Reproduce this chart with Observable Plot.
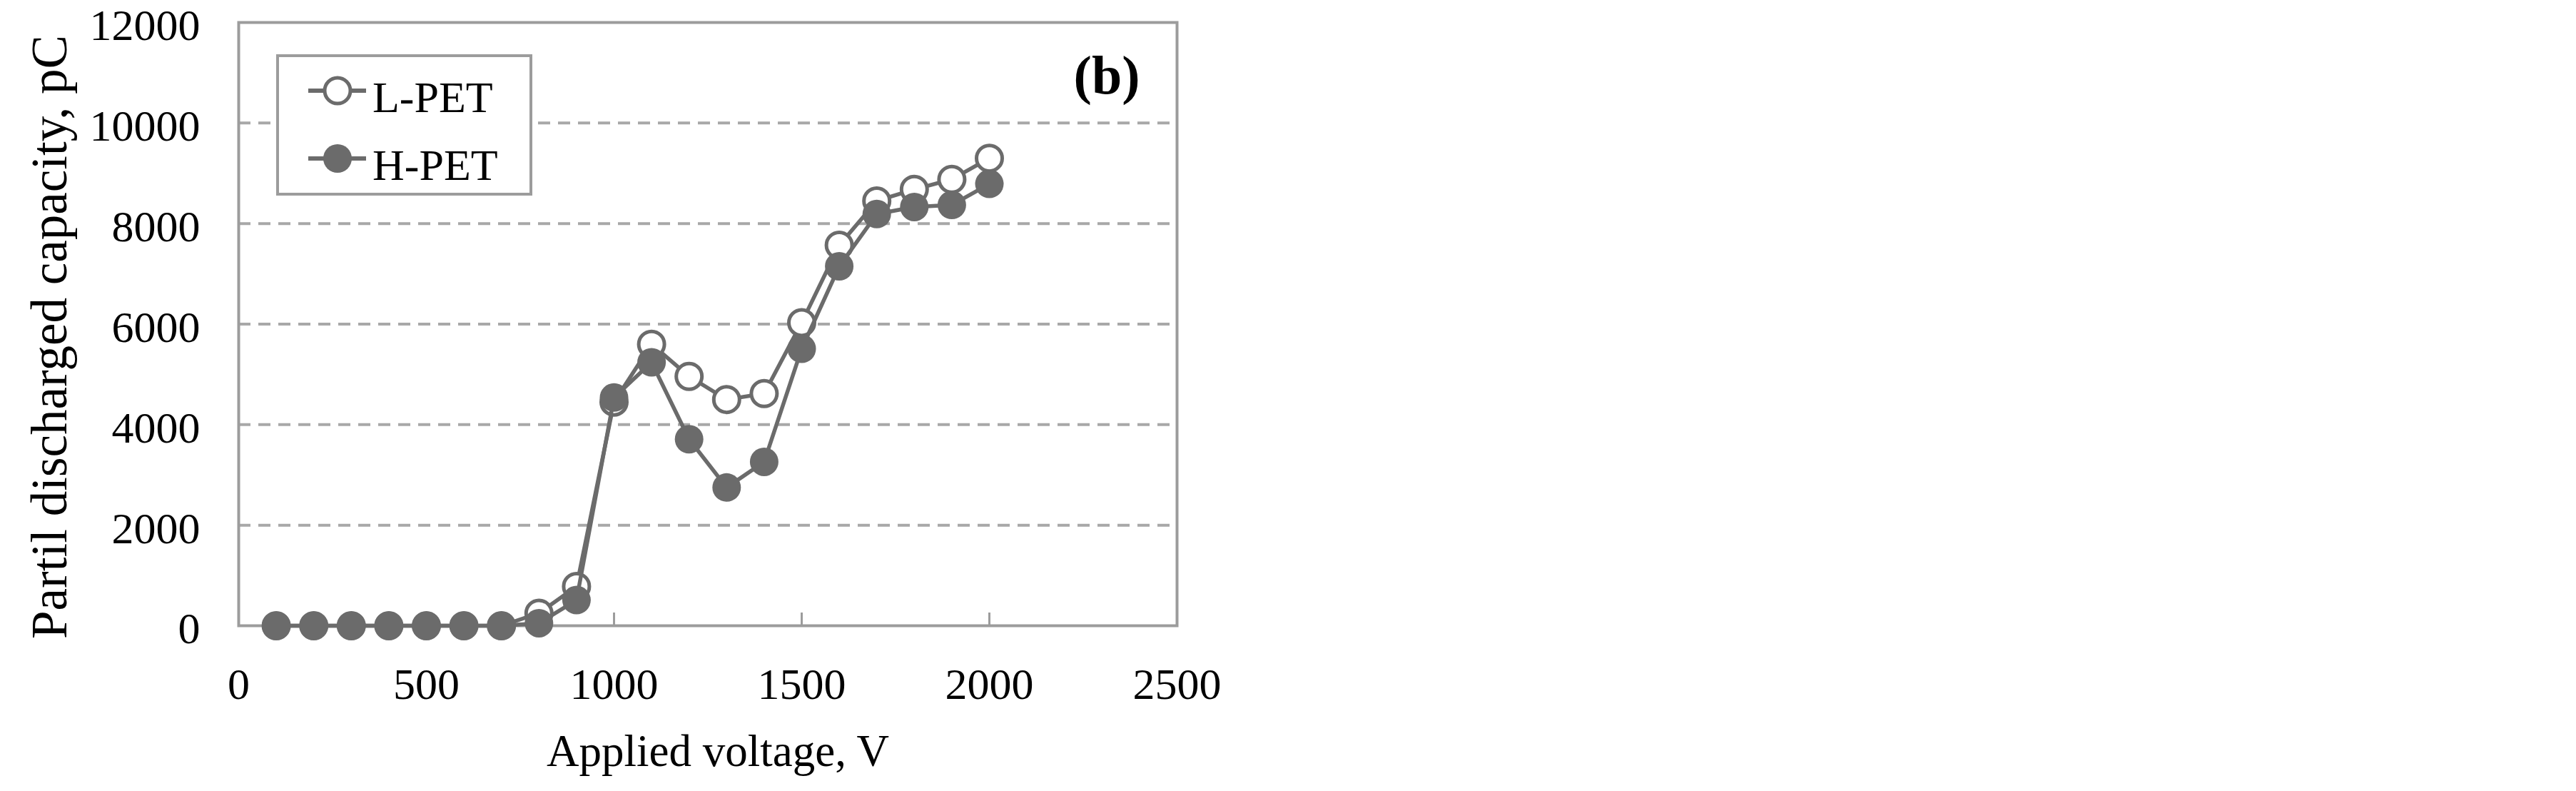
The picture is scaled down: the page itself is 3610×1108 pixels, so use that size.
<!DOCTYPE html>
<html>
<head>
<meta charset="utf-8">
<script src="https://cdn.jsdelivr.net/npm/d3@7"></script>
<script src="https://cdn.jsdelivr.net/npm/@observablehq/plot@0.6"></script>
<style>
  html, body { margin: 0; padding: 0; background: #ffffff; }
  svg { display: block; }
</style>
</head>
<body>
<div id="chart"></div>
<script>
const voltage = [100, 200, 300, 400, 500, 600, 700, 800, 900, 1000, 1100, 1200, 1300, 1400, 1500, 1600, 1700, 1800, 1900, 2000];
const lpet = [0, 0, 0, 0, 0, 0, 0, 250, 780, 4450, 5600, 4960, 4500, 4620, 6030, 7570, 8450, 8680, 8880, 9300];
const hpet = [0, 0, 0, 0, 0, 0, 0, 50, 510, 4540, 5240, 3710, 2750, 3260, 5510, 7150, 8190, 8330, 8370, 8790];
const xTicks = [0, 500, 1000, 1500, 2000, 2500];
const yTicks = [0, 2000, 4000, 6000, 8000, 10000, 12000];
const gridValues = [2000, 4000, 6000, 8000, 10000];
const seriesNames = ["L-PET", "H-PET"];
const xTitle = "Applied voltage, V";
const yTitle = "Partil discharged capacity, pC";
const panelLabel = "(b)";

const lData = voltage.map((v, i) => ({v, q: lpet[i]}));
const hData = voltage.map((v, i) => ({v, q: hpet[i]}));

const FONT = "'Liberation Serif', 'Times New Roman', Times, serif";
const DARK = "#6b6b6b";
const GRID = "#a8a8a8";
const FRAME = "#9c9c9c";

const W = 3610, H = 1108;
const mL = 334, mR = 1961, mT = 31, mB = 232;
const plotH = H - mT - mB;

const chart = Plot.plot({
  width: W,
  height: H,
  marginLeft: mL,
  marginRight: mR,
  marginTop: mT,
  marginBottom: mB,
  x: {domain: [0, 2500]},
  y: {domain: [0, 12000]},
  style: {fontFamily: FONT, fontSize: "62px", color: "black", background: "white"},
  marks: [
    Plot.ruleY(gridValues, {stroke: GRID, strokeWidth: 4, strokeDasharray: "17,11"}),
    Plot.frame({stroke: FRAME, strokeWidth: 4}),
    Plot.tickX(xTicks, {x: d => d, stroke: FRAME, strokeWidth: 3, insetTop: plotH - 18}),
    Plot.axisX(xTicks, {tickSize: 0, tickPadding: 58, fontSize: 62, label: null, tickFormat: d => String(d), fill: "black"}),
    Plot.axisY(yTicks, {tickSize: 0, tickPadding: 54, fontSize: 62, label: null, tickFormat: d => String(d), dy: 5, fill: "black"}),
    Plot.line(lData, {x: "v", y: "q", stroke: DARK, strokeWidth: 5.5}),
    Plot.dot(lData, {x: "v", y: "q", r: 18, fill: "white", stroke: DARK, strokeWidth: 5}),
    Plot.line(hData, {x: "v", y: "q", stroke: DARK, strokeWidth: 5.5}),
    Plot.dot(hData, {x: "v", y: "q", r: 20, fill: DARK, stroke: "none"}),
    Plot.text([xTitle], {frameAnchor: "bottom", textAnchor: "middle", lineAnchor: "bottom", dx: 14, dy: 196, fontSize: 63, fill: "black"}),
    Plot.text([yTitle], {frameAnchor: "left", textAnchor: "middle", lineAnchor: "middle", rotate: -90, dx: -264, dy: 18, fontSize: 71, fill: "black"}),
    Plot.text([panelLabel], {frameAnchor: "top-right", textAnchor: "end", lineAnchor: "bottom", dx: -52, dy: 99, fontSize: 76, fontWeight: "bold", fill: "black"})
  ]
});

// Legend box (inside plot area, top-left)
const svg = d3.select(chart);
const lg = svg.append("g")
  .attr("font-family", FONT)
  .attr("font-size", 62)
  .attr("text-anchor", "start");
lg.append("rect").attr("x", 389).attr("y", 78).attr("width", 355).attr("height", 194)
  .attr("fill", "white").attr("stroke", FRAME).attr("stroke-width", 4);
const rows = [
  {name: seriesNames[0], cy: 127, base: 157, open: true},
  {name: seriesNames[1], cy: 222, base: 252, open: false}
];
rows.forEach(r => {
  lg.append("line").attr("x1", 432).attr("x2", 513).attr("y1", r.cy).attr("y2", r.cy)
    .attr("stroke", DARK).attr("stroke-width", 6);
  if (r.open) {
    lg.append("circle").attr("cx", 473).attr("cy", r.cy).attr("r", 18)
      .attr("fill", "white").attr("stroke", DARK).attr("stroke-width", 5);
  } else {
    lg.append("circle").attr("cx", 473).attr("cy", r.cy).attr("r", 20).attr("fill", DARK);
  }
  lg.append("text").attr("x", 522).attr("y", r.base).attr("fill", "black")
    .attr("text-anchor", "start").text(r.name);
});

document.getElementById("chart").appendChild(chart);
</script>
</body>
</html>
